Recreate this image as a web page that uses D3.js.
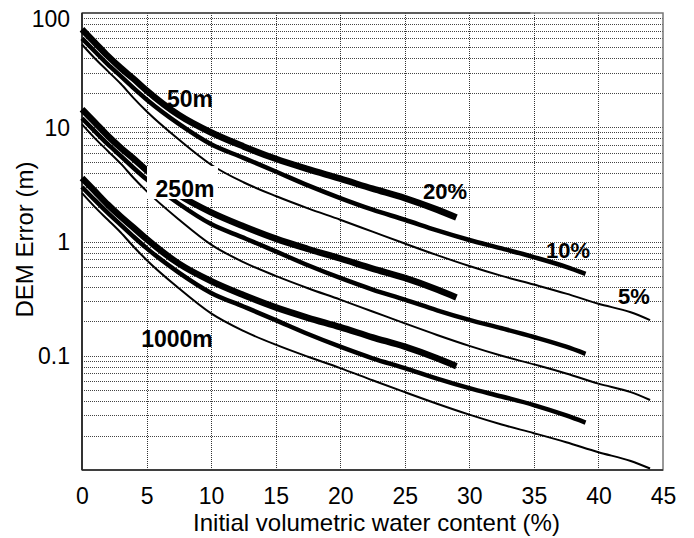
<!DOCTYPE html>
<html><head><meta charset="utf-8">
<script src="https://cdn.jsdelivr.net/npm/d3@7"></script>
<style>
html,body{margin:0;padding:0;background:#fff;}
svg{display:block;font-family:"Liberation Sans",Arial,sans-serif;}
</style></head>
<body><svg id="c" width="694" height="538"></svg>
<script>
// x positions (initial volumetric water content, %)
const xs20 = [0,1,2,3,4,5,7.5,10,12.5,15,17.5,20,22.5,25,27.5,29];
const xs10 = [0,1,2,3,4,5,7.5,10,12.5,15,17.5,20,22.5,25,27.5,30,32.5,35,37.5,39];
const xs5  = [0,1,2,3,4,5,7.5,10,12.5,15,17.5,20,22.5,25,27.5,30,32.5,35,37.5,40,42.5,44];

// DEM error (m), 50 m resolution
const e50_20 = [72,55,42,33,26.5,21,12.8,9.0,6.8,5.3,4.3,3.55,2.9,2.4,1.9,1.62];
const e50_10 = [60,46,35.5,28,22,17.5,10.7,7.1,5.4,4.1,3.1,2.4,1.9,1.55,1.25,1.03,0.87,0.73,0.6,0.52];
const e50_5  = [53,40,31,24,18,13.8,7.8,4.7,3.3,2.5,1.95,1.55,1.22,0.96,0.76,0.61,0.5,0.42,0.35,0.285,0.24,0.205];
// 250 m resolution
const e250_20 = [14.4,11,8.4,6.6,5.3,4.2,2.56,1.8,1.36,1.06,0.86,0.71,0.58,0.48,0.38,0.324];
const e250_10 = [12,9.2,7.1,5.6,4.4,3.5,2.14,1.42,1.08,0.82,0.62,0.48,0.38,0.31,0.25,0.206,0.174,0.146,0.12,0.104];
const e250_5  = [10.6,8,6.2,4.8,3.6,2.76,1.56,0.94,0.66,0.5,0.39,0.31,0.244,0.192,0.152,0.122,0.1,0.084,0.07,0.057,0.048,0.041];
// 1000 m resolution
const e1000_20 = [3.6,2.75,2.1,1.65,1.32,1.05,0.64,0.45,0.34,0.265,0.215,0.178,0.145,0.12,0.095,0.081];
const e1000_10 = [3,2.3,1.78,1.4,1.1,0.875,0.535,0.355,0.27,0.205,0.155,0.12,0.095,0.078,0.063,0.052,0.044,0.037,0.03,0.026];
const e1000_5  = [2.65,2,1.55,1.2,0.9,0.69,0.39,0.235,0.165,0.125,0.098,0.078,0.061,0.048,0.038,0.0305,0.025,0.021,0.0175,0.0143,0.012,0.0103];

const xTicks = [0,5,10,15,20,25,30,35,40,45];
const yTicks = [100,10,1,0.1];
const yTickLabels = ["100","10","1","0.1"];
const resLabels = ["50m","250m","1000m"];
const pctLabels = ["20%","10%","5%"];

const series = [
  {x:xs20, y:e50_20, w:6.5}, {x:xs10, y:e50_10, w:4.5}, {x:xs5, y:e50_5, w:2},
  {x:xs20, y:e250_20, w:6.5}, {x:xs10, y:e250_10, w:4.5}, {x:xs5, y:e250_5, w:2},
  {x:xs20, y:e1000_20, w:6.5}, {x:xs10, y:e1000_10, w:4.5}, {x:xs5, y:e1000_5, w:2}
];

const L=82, R=663, T=13, B=470;
const svg = d3.select("#c");
const x = d3.scaleLinear().domain([0,45]).range([L,R]);
const y = d3.scaleLog().domain([0.01,100]).range([B,T]);

// grid
const g = svg.append("g").attr("shape-rendering","crispEdges");
const minor = [];
for (let k=-2;k<=1;k++) for (let m=1;m<=9;m++){ const v=m*Math.pow(10,k); if(v>0.01 && v<100) minor.push(v); }
g.selectAll("line.h").data(minor).join("line")
  .attr("x1",L).attr("x2",R).attr("y1",d=>Math.round(y(d))+0.5).attr("y2",d=>Math.round(y(d))+0.5)
  .attr("stroke","#444").attr("stroke-width",1).attr("stroke-dasharray","1,1");
g.selectAll("line.v").data(xTicks.slice(1,-1)).join("line")
  .attr("x1",d=>Math.round(x(d))+0.5).attr("x2",d=>Math.round(x(d))+0.5).attr("y1",T).attr("y2",B)
  .attr("stroke","#333").attr("stroke-width",1).attr("stroke-dasharray","1,1");

// frame
svg.append("rect").attr("x",L).attr("y",T).attr("width",R-L).attr("height",B-T)
  .attr("fill","none").attr("stroke","#777").attr("stroke-width",1.5);
svg.append("line").attr("x1",L).attr("x2",L).attr("y1",T).attr("y2",B).attr("stroke","#111").attr("stroke-width",1.5);
svg.append("line").attr("x1",L).attr("x2",R).attr("y1",B).attr("y2",B).attr("stroke","#222").attr("stroke-width",1.5);
svg.append("line").attr("x1",L).attr("x2",R*0.8).attr("y1",T).attr("y2",T).attr("stroke","#222").attr("stroke-width",1.2);

// curves
const line = d3.line().x(d=>x(d[0])).y(d=>y(d[1])).curve(d3.curveMonotoneX);
svg.append("g").selectAll("path").data(series).join("path")
  .attr("d",s=>line(s.x.map((xv,i)=>[xv,s.y[i]])))
  .attr("fill","none").attr("stroke","#000").attr("stroke-width",s=>s.w).attr("stroke-linecap","butt");

// axes
const xa = svg.append("g").attr("transform",`translate(0,${B})`)
  .call(d3.axisBottom(x).tickValues(xTicks).tickSize(0).tickPadding(12).tickFormat(d3.format("d")));
xa.select(".domain").remove();
xa.selectAll("text").attr("font-size",23).attr("font-family","Liberation Sans, Arial, sans-serif").attr("fill","#000").attr("dy","0.95em");

const ya = svg.append("g").attr("transform",`translate(${L},0)`)
  .call(d3.axisLeft(y).tickValues(yTicks).tickSize(0).tickPadding(12).tickFormat((d,i)=>yTickLabels[i]));
ya.select(".domain").remove();
ya.selectAll("text").attr("font-size",23).attr("font-family","Liberation Sans, Arial, sans-serif").attr("fill","#000")
  .attr("dy",(d)=> d===100 ? "0.6em" : "0.35em");

svg.append("text").attr("x",(L+R)/2+4).attr("y",531).attr("text-anchor","middle")
  .attr("font-size",24).text("Initial volumetric water content (%)");
svg.append("text").attr("transform",`translate(33,${(T+B)/2-2}) rotate(-90)`).attr("text-anchor","middle")
  .attr("font-size",24).text("DEM Error (m)");

// curve labels
const lab = svg.append("g").attr("font-weight","bold").attr("fill","#000");
// white box behind the 250m label (it masks the curves in the original)
lab.append("rect").attr("x",147).attr("y",166).attr("width",71).attr("height",33).attr("fill","#fff");
const resPos = [[190,107],[185,197],[177,347]];
lab.selectAll("text.r").data(resLabels).join("text").attr("class","r")
  .attr("x",(d,i)=>resPos[i][0]).attr("y",(d,i)=>resPos[i][1]).attr("text-anchor","middle")
  .attr("font-size",23).text(d=>d);
const pctPos = [[445,199],[568,258],[634,304]];
lab.selectAll("text.p").data(pctLabels).join("text").attr("class","p")
  .attr("x",(d,i)=>pctPos[i][0]).attr("y",(d,i)=>pctPos[i][1]).attr("text-anchor","middle")
  .attr("font-size",22).text(d=>d);
</script></body></html>
